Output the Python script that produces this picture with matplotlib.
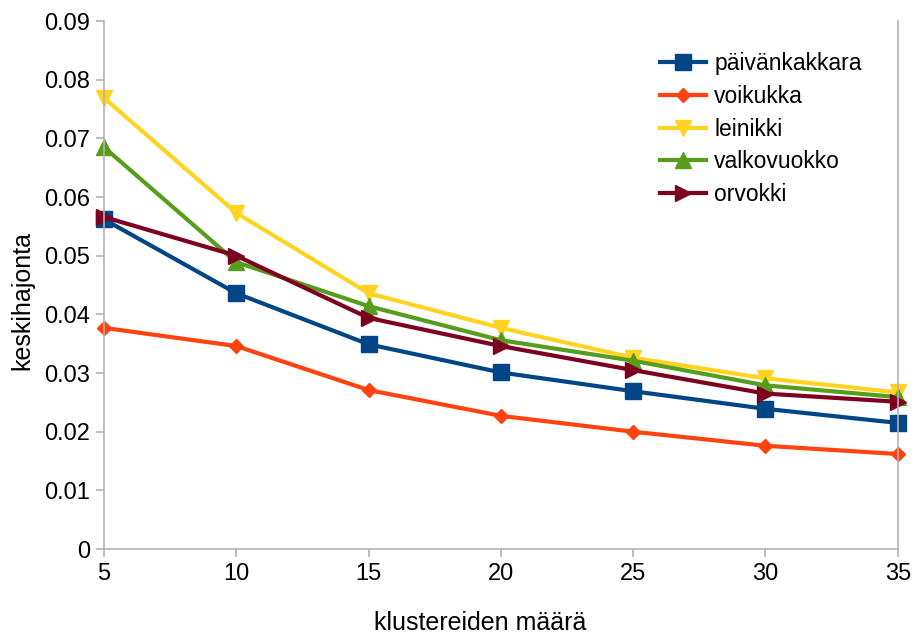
import matplotlib
matplotlib.use("Agg")
import matplotlib.pyplot as plt

# klusterien määrä ja keskihajonnat lajeittain
clusters = [5, 10, 15, 20, 25, 30, 35]
paivankakkara = [0.0562, 0.0436, 0.0349, 0.0301, 0.0269, 0.0239, 0.0215]
voikukka = [0.0377, 0.0346, 0.0271, 0.0227, 0.0200, 0.0176, 0.0162]
leinikki = [0.0769, 0.0573, 0.0436, 0.0377, 0.0326, 0.0291, 0.0267]
valkovuokko = [0.0685, 0.0489, 0.0414, 0.0356, 0.0321, 0.0279, 0.0259]
orvokki = [0.0566, 0.0500, 0.0394, 0.0346, 0.0305, 0.0265, 0.0251]

plt.rcParams['font.family'] = ['Liberation Sans', 'DejaVu Sans']

series = [
    ("päivänkakkara", paivankakkara, '#004586', 's', 11.5),
    ("voikukka", voikukka, '#ff420e', 'D', 7.5),
    ("leinikki", leinikki, '#ffd320', 'v', 12),
    ("valkovuokko", valkovuokko, '#579d1c', '^', 12),
    ("orvokki", orvokki, '#7e0021', '>', 12),
]

fig = plt.figure(figsize=(9.17, 6.39), dpi=100)
ax = fig.add_axes([0.1134, 0.1408, 0.8656, 0.8262])

for label, vals, col, mk, ms in series:
    ax.plot(clusters, vals, color=col, marker=mk, markersize=ms, linewidth=3,
            label=label, clip_on=False)

ax.set_xlim(5, 35)
ax.set_ylim(0, 0.09)
ax.set_xticks(clusters)
ax.set_yticks([i / 100 for i in range(10)])
ax.set_yticklabels(["0"] + [f"{i / 100:.2f}" for i in range(1, 10)])

ax.spines['top'].set_visible(False)
for s in ['left', 'bottom', 'right']:
    ax.spines[s].set_color('#b3b3b3')
    ax.spines[s].set_linewidth(1.2)
ax.tick_params(axis='both', color='#b3b3b3', length=6, width=1.2, labelsize=17, pad=4)

ax.set_xlabel("klustereiden määrä", fontsize=18)
ax.set_ylabel("keskihajonta", fontsize=18)
ax.xaxis.set_label_coords(0.4736, -0.118)
ax.yaxis.set_label_coords(-0.088, 0.4716)

ax.legend(loc='upper left', bbox_to_anchor=(0.675, 0.98), frameon=False, fontsize=16.5,
          handlelength=2.0, labelspacing=0.42, handletextpad=0.35)

fig.savefig("out.png", dpi=100)
